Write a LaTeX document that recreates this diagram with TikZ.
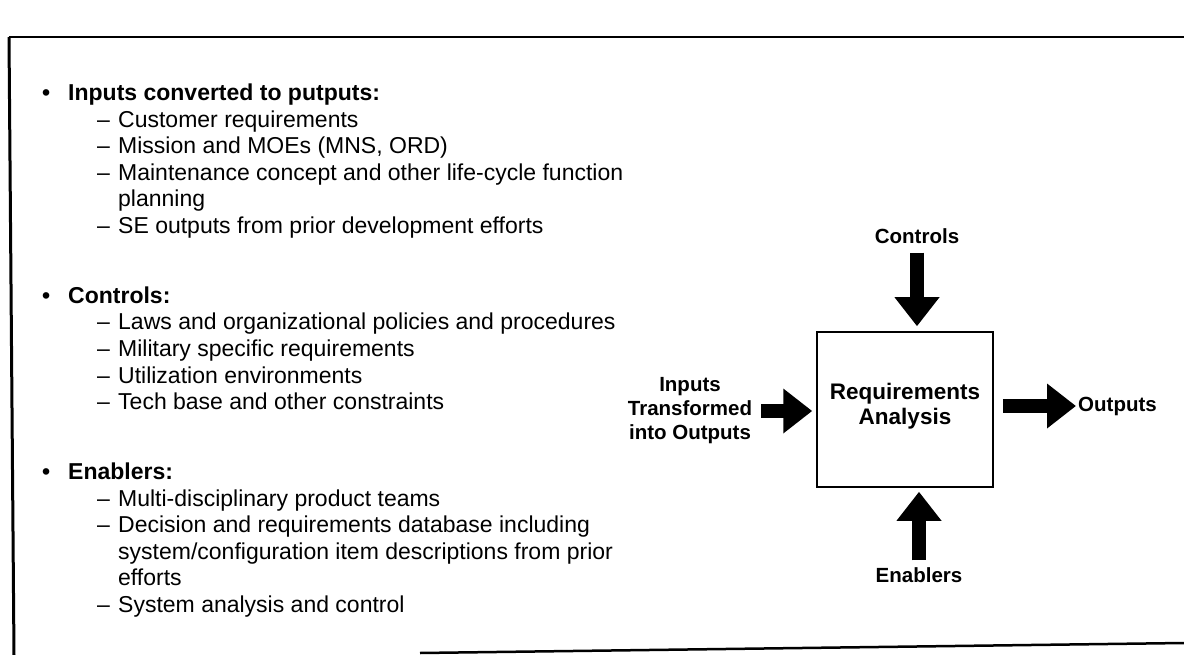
\documentclass[tikz,border=0pt]{standalone}
\usepackage{fontspec}
\setmainfont{Liberation Sans}
\usetikzlibrary{arrows.meta, positioning}

\tikzset{
  listhead/.style={anchor=base west, inner sep=0pt, font=\fontsize{23}{26}\selectfont\bfseries},
  listitem/.style={anchor=base west, inner sep=0pt, font=\fontsize{23}{26}\selectfont},
  lbl/.style={font=\fontsize{20.5}{24}\selectfont\bfseries, align=center, inner sep=0pt},
  fatarrow/.style={line width=14pt, -{Triangle[length=29pt, width=43pt]}},
}
\newcommand{\dashitem}[1]{\makebox[21pt][l]{--}#1}

\begin{document}
\begin{tikzpicture}[x=1pt, y=-1pt]
    \useasboundingbox (0,0) rectangle (1184,655);

    % Frame
    \draw[line width=2pt] (9,37) -- (1184,37);
    \draw[line width=3pt] (9,37) -- (14,655);
    \draw[line width=2.5pt] (420,653) -- (1184,643);

    % Inputs
    \node[listhead] (b1) at (42,101) {\textbullet};
    \node[listhead] (h1) at (68,101) {Inputs converted to putputs:};
    \node[listitem] (i11) at (97,127.5) {\dashitem{Customer requirements}};
    \node[listitem] (i12) at (97,154) {\dashitem{Mission and MOEs (MNS, ORD)}};
    \node[listitem] (i13) at (97,180.5) {\dashitem{Maintenance concept and other life-cycle function}};
    \node[listitem] (i13b) at (118,207) {planning};
    \node[listitem] (i14) at (97,233.5) {\dashitem{SE outputs from prior development efforts}};

    % Controls
    \node[listhead] (b2) at (42,303.5) {\textbullet};
    \node[listhead] (h2) at (68,303.5) {Controls:};
    \node[listitem] (i21) at (97,330) {\dashitem{Laws and organizational policies and procedures}};
    \node[listitem] (i22) at (97,356.5) {\dashitem{Military specific requirements}};
    \node[listitem] (i23) at (97,383) {\dashitem{Utilization environments}};
    \node[listitem] (i24) at (97,409.5) {\dashitem{Tech base and other constraints}};

    % Enablers
    \node[listhead] (b3) at (42,479.5) {\textbullet};
    \node[listhead] (h3) at (68,479.5) {Enablers:};
    \node[listitem] (i31) at (97,506) {\dashitem{Multi-disciplinary product teams}};
    \node[listitem] (i32) at (97,532.5) {\dashitem{Decision and requirements database including}};
    \node[listitem] (i32b) at (118,559) {system/configuration item descriptions from prior};
    \node[listitem] (i32c) at (118,585.5) {efforts};
    \node[listitem] (i33) at (97,612) {\dashitem{System analysis and control}};

    % Requirements analysis block
    \node[draw, line width=1.5pt, minimum width=176pt, minimum height=155pt] (req) at (905,409.5) {};
    \node[lbl, font=\fontsize{22.5}{25}\selectfont\bfseries] (reqlbl) at (905,406) {Requirements\\Analysis};

    \node[lbl] (ctrl) at (917,236) {Controls};
    \node[lbl] (enab) at (919,575) {Enablers};
    \node[lbl] (inp) at (690,411) {Inputs\\Transformed\\into Outputs};
    \node[lbl, anchor=west] (outp) at (1078,406) {Outputs};

    \draw[fatarrow, shorten <=9pt, shorten >=5pt] (ctrl.south) -- (ctrl.south |- req.north);
    \draw[fatarrow, shorten <=7pt, shorten >=4pt] (enab.north) -- (enab.north |- req.south);
    \draw[fatarrow, shorten <=9pt, shorten >=4pt] (inp.east) -- (inp.east -| req.west);
    \draw[fatarrow, shorten <=9pt, shorten >=2pt] (req.east |- outp.west) -- (outp.west);
\end{tikzpicture}
\end{document}
